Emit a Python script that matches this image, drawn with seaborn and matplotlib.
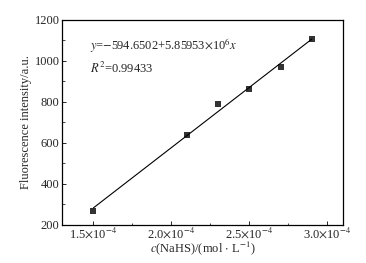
import numpy as np
import pandas as pd
import matplotlib
matplotlib.use("Agg")
import matplotlib.pyplot as plt
import matplotlib.ticker as mticker
import seaborn as sns

sns.set_style("ticks")
plt.rcParams['font.family'] = ['Liberation Serif', 'DejaVu Serif']
plt.rcParams['mathtext.fontset'] = 'stix'
fontlabelsize = 9

# data
conc = [1.5e-4, 2.1e-4, 2.3e-4, 2.5e-4, 2.7e-4, 2.9e-4]
intensity = [270, 640, 790, 862, 972, 1105]
xtick_vals = [1.5e-4, 2.0e-4, 2.5e-4, 3.0e-4]
xtick_labels = [r'1.5$\times$10$^{-4}$', r'2.0$\times$10$^{-4}$', r'2.5$\times$10$^{-4}$', r'3.0$\times$10$^{-4}$']

df = pd.DataFrame({'c': conc, 'I': intensity})

fig, ax = plt.subplots(figsize=(3.66, 2.63), dpi=100)
fig.subplots_adjust(left=0.17, right=0.937, top=0.924, bottom=0.145)

sns.regplot(data=df, x='c', y='I', ax=ax, ci=None, marker='s',
            scatter_kws={'s': 18, 'color': 'black', 'zorder': 3, 'linewidths': 0},
            line_kws={'color': 'black', 'linewidth': 0.8})

ax.set_xlim(1.3e-4, 3.1e-4)
ax.set_ylim(200, 1200)
ax.set_xticks(xtick_vals)
ax.set_xticklabels(xtick_labels, fontsize=fontlabelsize)
ax.xaxis.set_minor_locator(mticker.MultipleLocator(0.25e-4))
ax.yaxis.set_major_locator(mticker.MultipleLocator(200))
ax.yaxis.set_minor_locator(mticker.MultipleLocator(100))
ax.tick_params(which='both', direction='in', labelsize=fontlabelsize)
ax.tick_params(which='major', length=3, width=0.7, pad=2)
ax.tick_params(axis='x', which='major', pad=0.5)
ax.tick_params(which='minor', length=1.8, width=0.6)

ax.set_xlabel(r'$\mathit{c}$(NaHS)/(mol $\cdot$ L$^{-1}$)', fontsize=fontlabelsize, labelpad=-0.5)
ax.set_ylabel('Fluorescence intensity/a.u.', fontsize=fontlabelsize, labelpad=2)

ax.text(0.1, 0.855, r'$\mathit{y}$=$-$594.6502+5.85953$\times$10$^{6}$$\mathit{x}$',
        transform=ax.transAxes, fontsize=fontlabelsize)
ax.text(0.1, 0.74, r'$\mathit{R}^{2}$=0.99433', transform=ax.transAxes, fontsize=fontlabelsize)

for spine in ax.spines.values():
    spine.set_linewidth(0.9)
    spine.set_edgecolor('black')

plt.savefig('out.png', dpi=100)
